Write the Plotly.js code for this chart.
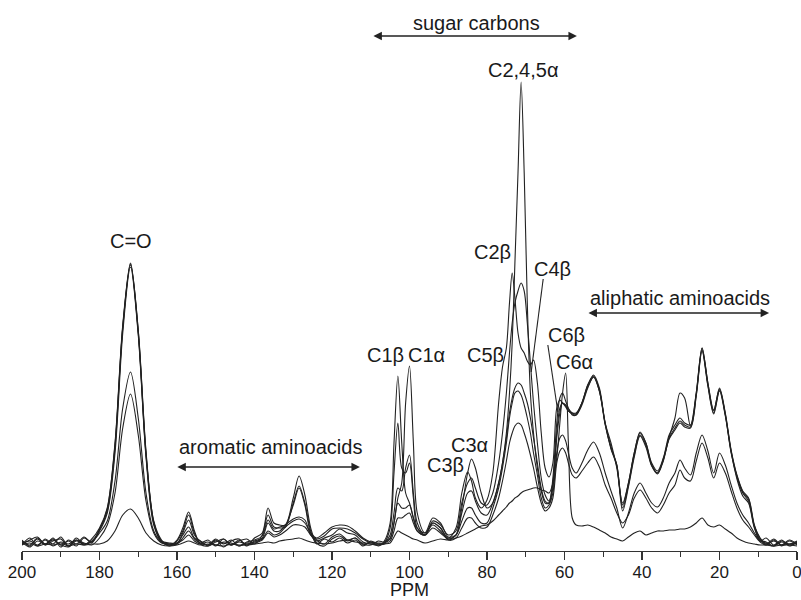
<!DOCTYPE html>
<html><head><meta charset="utf-8">
<script src="https://cdn.plot.ly/plotly-3.0.1.min.js"></script>
<style>html,body{margin:0;padding:0;background:#fff}#chart{width:801px;height:600px}</style>
</head><body><div id="chart"></div>
<script>
// chemical shift grid (ppm)
const ppm = [
 200,198,196,194,192,190,188,186,184,182,
 180,178,176,174,172,170,168,166,164,162,
 160,158.5,157,155.5,154,152,150,148,146,144,
 142,140,138,136.5,135,133.5,132,130,128.5,127,
 125.5,124,122,120,118,116,114,112,110,108,
 106.5,105,104,103,102,101,100,99,98,96,
 94,92,90,88,86.5,85,84,83,81.5,80,
 78.5,77,76,75,74.2,73.5,72.8,72,71.2,70.4,
 69.6,68.8,68,67,66,65,64,63,62,61.2,
 60.5,59.7,59,58,57,55.5,54,52.5,51,49.5,
 48,46.5,45,43.5,42,40.5,39,37.5,36,34.5,
 33,31.5,30.2,29,27.5,26,24.5,23,21.5,20,
 18.5,17,15.5,14,12.5,11,9.5,8,6,4,
 2,0];

// spectra intensities (arbitrary units)
const specA1 = [
 8,15,7,14,9,16,7,13,8,14,
 25,45,110,228,290,222,100,30,12,8,
 13,25,41,22,9,7,13,6,12,14,
 7,15,20,45,30,28,28,55,77,58,
 25,10,7,14,17,12,15,8,11,7,
 12,30,110,177,110,60,50,35,22,18,
 30,25,15,25,60,81,72,55,45,53,
 80,150,186,205,250,280,255,220,205,200,
 192,188,193,170,120,85,76,90,145,153,
 150,146,142,140,140,150,168,178,165,130,
 110,85,50,70,100,120,110,90,82,95,
 118,128,135,130,128,160,205,170,142,165,
 140,103,78,62,55,28,14,8,13,7,
 12,8];
const specA2 = [
 13,7,14,8,15,6,13,9,16,10,
 24,42,105,225,288,220,98,32,13,7,
 12,22,38,20,10,13,7,14,8,12,
 14,9,18,38,26,25,26,50,67,50,
 22,9,14,11,15,10,13,7,12,9,
 10,15,30,55,70,150,187,110,40,20,
 28,22,14,18,45,80,94,85,60,45,
 50,70,90,120,160,210,290,380,471,380,
 250,160,120,85,62,50,50,75,130,155,
 160,152,145,138,138,150,166,176,162,128,
 105,88,45,68,98,118,108,88,80,93,
 115,125,132,128,126,158,203,168,140,163,
 138,100,76,60,52,26,12,15,8,13,
 7,11];
const specA3 = [
 9,13,16,8,12,14,7,15,9,12,
 23,44,108,226,289,223,102,31,11,8,
 9,20,33,18,12,8,14,9,13,7,
 11,13,17,33,24,26,28,48,65,48,
 20,13,9,16,19,13,15,9,8,12,
 11,25,80,130,85,80,90,55,25,18,
 32,28,18,22,50,70,75,65,50,48,
 60,90,120,160,200,230,250,262,270,262,
 230,190,150,110,75,58,52,70,120,145,
 150,148,144,140,139,150,168,177,163,130,
 106,88,48,70,100,121,110,88,80,94,
 116,135,160,155,127,160,205,170,143,164,
 139,102,77,61,54,27,15,9,14,8,
 13,9];
const specA4 = [
 12,8,15,9,14,8,12,7,15,11,
 22,40,100,220,286,218,96,28,12,10,
 10,18,26,15,12,7,11,14,8,13,
 8,12,15,30,22,22,28,34,36,33,
 18,12,15,18,24,20,18,11,9,8,
 10,18,40,65,62,85,98,60,30,18,
 25,20,14,18,40,60,62,52,40,38,
 50,70,90,115,140,155,165,170,168,160,
 150,135,115,90,65,52,50,65,115,140,
 150,147,142,139,138,148,165,176,162,129,
 104,87,42,66,96,117,106,87,79,92,
 114,123,130,126,125,157,202,167,139,162,
 137,101,74,57,50,25,13,11,7,12,
 9,12];
const specB1 = [
 11,6,12,9,13,8,6,12,9,11,
 20,32,72,145,181,135,60,22,11,9,
 9,15,22,14,10,8,12,10,8,11,
 9,11,14,22,18,20,26,32,34,30,
 20,15,20,26,28,27,22,15,11,10,
 10,14,30,50,45,45,48,35,25,20,
 35,30,16,18,32,45,45,38,30,30,
 45,65,85,110,135,150,160,162,158,148,
 135,120,100,78,55,45,48,60,100,115,
 118,112,100,85,80,90,103,111,100,80,
 62,45,25,40,60,70,60,50,46,55,
 70,80,93,85,78,100,118,102,80,100,
 88,68,50,38,30,20,12,10,7,11,
 8,10];
const specB2 = [
 9,12,8,13,7,11,9,13,10,8,
 15,28,60,125,159,118,52,20,10,9,
 10,13,18,12,9,11,8,11,10,7,
 10,10,13,20,16,18,22,28,28,26,
 18,14,17,24,25,24,20,14,10,9,
 9,12,22,35,35,38,40,30,22,18,
 30,25,13,15,25,35,35,30,25,26,
 38,55,72,92,110,120,127,130,128,120,
 110,98,85,66,50,42,45,55,90,102,
 105,100,90,78,75,82,90,96,86,68,
 55,40,30,38,55,63,55,45,40,48,
 60,68,83,75,72,92,110,95,75,90,
 80,62,45,33,26,18,11,8,12,8,
 9,10];
const specL = [
 8,10,7,9,8,10,7,9,8,9,
 9,12,22,38,44,35,20,12,8,7,
 8,10,12,10,8,9,8,7,9,8,
 8,9,10,11,10,12,13,14,15,13,
 11,10,9,10,12,13,11,10,9,8,
 9,10,16,22,20,18,16,14,13,10,
 12,14,13,15,17,20,22,24,27,28,
 32,38,42,46,50,52,55,57,60,62,
 63,64,65,65,63,62,60,70,95,130,
 160,180,110,35,28,27,28,26,23,20,
 16,14,12,16,20,22,18,20,22,22,
 23,23,24,24,26,30,35,28,26,28,
 24,20,15,12,10,9,8,8,7,8,
 8,7];

const spectra = [specA1, specA2, specA3, specA4, specB1, specB2, specL];
const xTicks = [200,180,160,140,120,100,80,60,40,20,0];
const xTitle = 'PPM';

const peakLabels = [
 {t:'C=O', x:171.9, y:312},
 {t:'C2,4,5α', x:70.7, y:483},
 {t:'C2β', x:78.7, y:301},
 {t:'C4β', x:63.0, y:284},
 {t:'C5β', x:80.5, y:198},
 {t:'C1β', x:106.3, y:198},
 {t:'C1α', x:95.5, y:198},
 {t:'C3α', x:84.4, y:108},
 {t:'C3β', x:90.8, y:88},
 {t:'C6β', x:59.4, y:218},
 {t:'C6α', x:57.3, y:191}
];
const regions = [
 {t:'sugar carbons', x:82.6, y:530, x0:109.7, x1:56.8, ya:517},
 {t:'aromatic aminoacids', x:136.0, y:106, x0:160.3, x1:112.8, ya:86},
 {t:'aliphatic aminoacids', x:30.2, y:255, x0:54.2, x1:7.2, ya:240}
];
const leaders = [
 {x0:65.5, y0:274, x1:68.6, y1:181},
 {x0:64.3, y0:208, x1:61.7, y1:141}
];

const traces = spectra.map(s => ({
  x: ppm, y: s, type:'scatter', mode:'lines',
  line:{color:'#222', width:1.1, shape:'spline', smoothing:0.9},
  hoverinfo:'skip', showlegend:false
}));

const font = {family:'Liberation Sans, Arial, sans-serif', size:20, color:'#1a1a1a'};
const annotations = [];
peakLabels.forEach(p => annotations.push({x:p.x, y:p.y, text:p.t, showarrow:false, xanchor:'center', yanchor:'middle', font:font}));
regions.forEach(r => {
  annotations.push({x:r.x, y:r.y, text:r.t, showarrow:false, xanchor:'center', yanchor:'middle', font:font});
  annotations.push({x:r.x1, y:r.ya, ax:r.x0, ay:r.ya, axref:'x', ayref:'y', xref:'x', yref:'y', text:'',
    showarrow:true, arrowhead:2, startarrowhead:2, arrowside:'end+start', arrowsize:1.3, arrowwidth:1.3, arrowcolor:'#222'});
});
// axis title (placed as text below the tick labels)
annotations.push({x:0.5, xref:'paper', y:-0.0705, yref:'paper', text:xTitle, showarrow:false,
  xanchor:'center', yanchor:'middle', font:{family:'Liberation Sans, Arial, sans-serif', size:18, color:'#1a1a1a'}});
const shapes = leaders.map(l => ({type:'line', xref:'x', yref:'y', x0:l.x0, y0:l.y0, x1:l.x1, y1:l.y1, line:{color:'#222', width:1.1}}));

const tf = {family:'Liberation Sans, Arial, sans-serif', size:17, color:'#1a1a1a'};
const layout = {
  width:801, height:600,
  margin:{l:22, r:4, t:0, b:49},
  paper_bgcolor:'#fff', plot_bgcolor:'#fff',
  showlegend:false,
  xaxis:{range:[200,0], tickmode:'array', tickvals:xTicks, ticktext:xTicks.map(String),
    ticks:'outside', ticklen:8, tickwidth:1.2, tickcolor:'#333', ticklabeloverflow:'allow', ticklabelstandoff:-3,
    minor:{dtick:10, tick0:0, ticks:'outside', ticklen:5, tickwidth:1.2, tickcolor:'#333', showgrid:false},
    showline:true, linecolor:'#333', linewidth:1.2, showgrid:false, zeroline:false, automargin:false,
    tickfont:tf},
  yaxis:{range:[2,553], visible:false, fixedrange:true},
  annotations:annotations, shapes:shapes
};
Plotly.newPlot('chart', traces, layout, {staticPlot:true, displayModeBar:false});
</script></body></html>
